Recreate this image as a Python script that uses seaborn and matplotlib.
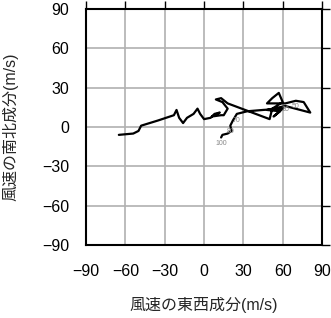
import matplotlib
matplotlib.use("Agg")
import matplotlib.pyplot as plt
import seaborn as sns
import pandas as pd

# Wind hodograph (u: east-west, v: north-south), m/s
u_wind = [-65, -54, -50, -48, -35, -23, -21, -19, -16, -13, -8, -5, -3, 0, 5, 8, 12, 6, 13, 15,
          18, 14, 9, 13, 18, 34, 50, 52, 60, 57, 52, 48, 55, 62, 70, 76, 81, 62, 48, 58,
          53, 60, 45, 33, 25, 22, 20, 21, 18, 14, 13]
v_wind = [-6, -5, -3, 1, 5, 9, 13, 7, 3, 7, 10, 14, 10, 6, 7, 10, 11, 8, 9, 9,
          14, 19, 21, 22, 18, 12, 6, 14, 19, 26, 22, 18, 18, 18, 20, 19, 11, 16, 13, 12,
          8, 14, 13, 12, 10, 5, 1, -3, -5, -6, -8]
label_index = [33, 34, 44, 46, 50]
label_text = ["30", "50", "70", "80", "100"]

ticks = [-90, -60, -30, 0, 30, 60, 90]
xlabel = "風速の東西成分(m/s)"
ylabel = "風速の南北成分(m/s)"

sns.set_theme(style="white")
plt.rcParams['font.family'] = ['Liberation Sans', 'Noto Sans CJK JP', 'DejaVu Sans']

fig = plt.figure(figsize=(3.31, 3.18), dpi=100)
ax = fig.add_axes([0.26, 0.2296, 0.973 - 0.26, 0.9717 - 0.2296])

df = pd.DataFrame({"u": u_wind, "v": v_wind})
sns.lineplot(data=df, x="u", y="v", sort=False, estimator=None, color="black",
             linewidth=1.6, ax=ax, zorder=3)

for i, t in zip(label_index, label_text):
    ax.text(u_wind[i], v_wind[i] - 2, t, fontsize=5, color="#888888",
            ha="center", va="top", zorder=4)

ax.set_xlim(-90, 90)
ax.set_ylim(-90, 90)
ax.set_xticks(ticks)
ax.set_yticks(ticks)
ax.set_xticklabels([str(t).replace("-", "\u2212") for t in ticks])
ax.set_yticklabels([str(t).replace("-", "\u2212") for t in ticks])
ax.grid(True, color="#b0b0b0", linewidth=1.2)
ax.set_axisbelow(True)
for s in ax.spines.values():
    s.set_color("black")
    s.set_linewidth(1.5)
ax.tick_params(axis="both", direction="out", length=6, width=1, color="black",
               top=True, right=True, labelcolor="black", labelsize=11.5)
ax.tick_params(axis="x", pad=8)
ax.tick_params(axis="y", pad=6)

ax.set_xlabel(xlabel, fontsize=11.5, labelpad=13)
ax.set_ylabel(ylabel, fontsize=11.5, labelpad=17)

fig.savefig("out.png", dpi=100)
